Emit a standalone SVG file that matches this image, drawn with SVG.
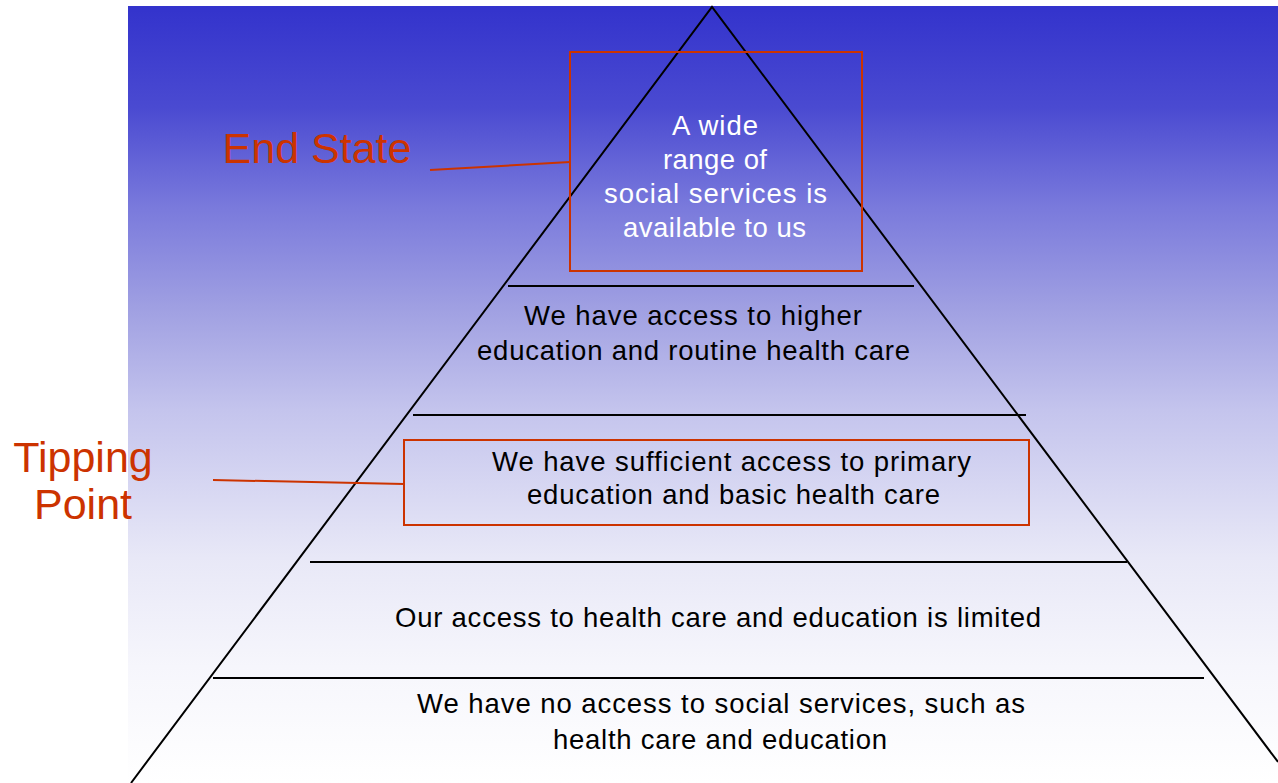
<svg xmlns="http://www.w3.org/2000/svg" width="1278" height="783" viewBox="0 0 1278 783">
<defs>
<linearGradient id="bg" x1="0" y1="0" x2="0" y2="1">
<stop offset="0" stop-color="#3333CC"/>
<stop offset="0.13" stop-color="#4A4AD1"/>
<stop offset="0.26" stop-color="#7A7ADC"/>
<stop offset="0.39" stop-color="#A0A0E2"/>
<stop offset="0.52" stop-color="#C4C4ED"/>
<stop offset="0.71" stop-color="#E8E8F7"/>
<stop offset="0.85" stop-color="#F6F6FC"/>
<stop offset="1" stop-color="#FFFFFF"/>
</linearGradient>
<style>
.t{font-family:"Liberation Sans",Arial,sans-serif;font-size:27.5px;text-anchor:middle;fill:#000}
.w{fill:#fff}
.lab{font-family:"Liberation Sans",Arial,sans-serif;font-size:43px;fill:#CC3300;text-anchor:middle}
.edge{stroke:#000;stroke-width:2;fill:none}
.red{stroke:#CC3300;stroke-width:2;fill:none}
</style>
</defs>
<rect width="1278" height="783" fill="#fff"/>
<rect x="128" y="6" width="1150" height="777" fill="url(#bg)"/>
<g id="pyramid">
<path class="edge" d="M131,783 L712,7 L1278,762"/>
</g>
<g id="connectors">
<line class="edge" x1="508" y1="286" x2="914" y2="286"/>
<line class="edge" x1="413" y1="415" x2="1026" y2="415"/>
<line class="edge" x1="310" y1="562" x2="1127" y2="562"/>
<line class="edge" x1="213" y1="678" x2="1204" y2="678"/>
<line class="red" x1="430" y1="170" x2="570" y2="162"/>
<line class="red" x1="213" y1="480" x2="404" y2="484"/>
</g>
<g id="end-state-box">
<rect class="red" x="570" y="52" width="292" height="219"/>
<text class="t w" x="715" y="135" textLength="86" lengthAdjust="spacing">A wide</text>
<text class="t w" x="715" y="169" textLength="104" lengthAdjust="spacing">range of</text>
<text class="t w" x="715.5" y="203" textLength="223" lengthAdjust="spacing">social services is</text>
<text class="t w" x="714.5" y="237" textLength="183" lengthAdjust="spacing">available to us</text>
</g>
<g id="level-4">
<text class="t" x="693" y="325" textLength="338" lengthAdjust="spacing">We have access to higher</text>
<text class="t" x="693.5" y="360" textLength="433" lengthAdjust="spacing">education and routine health care</text>
</g>
<g id="tipping-box">
<rect class="red" x="404" y="440" width="625" height="85"/>
<text class="t" x="731.5" y="471" textLength="479" lengthAdjust="spacing">We have sufficient access to primary</text>
<text class="t" x="733.5" y="504" textLength="413" lengthAdjust="spacing">education and basic health care</text>
</g>
<g id="level-2">
<text class="t" x="718" y="627" textLength="646" lengthAdjust="spacing">Our access to health care and education is limited</text>
</g>
<g id="level-1">
<text class="t" x="721" y="713" textLength="608" lengthAdjust="spacing">We have no access to social services, such as</text>
<text class="t" x="720" y="749" textLength="334" lengthAdjust="spacing">health care and education</text>
</g>
<g id="end-state-label">
<text class="lab" x="317" y="163">End State</text>
</g>
<g id="tipping-label">
<text class="lab" x="83" y="472">Tipping</text>
<text class="lab" x="83" y="519">Point</text>
</g>
</svg>
